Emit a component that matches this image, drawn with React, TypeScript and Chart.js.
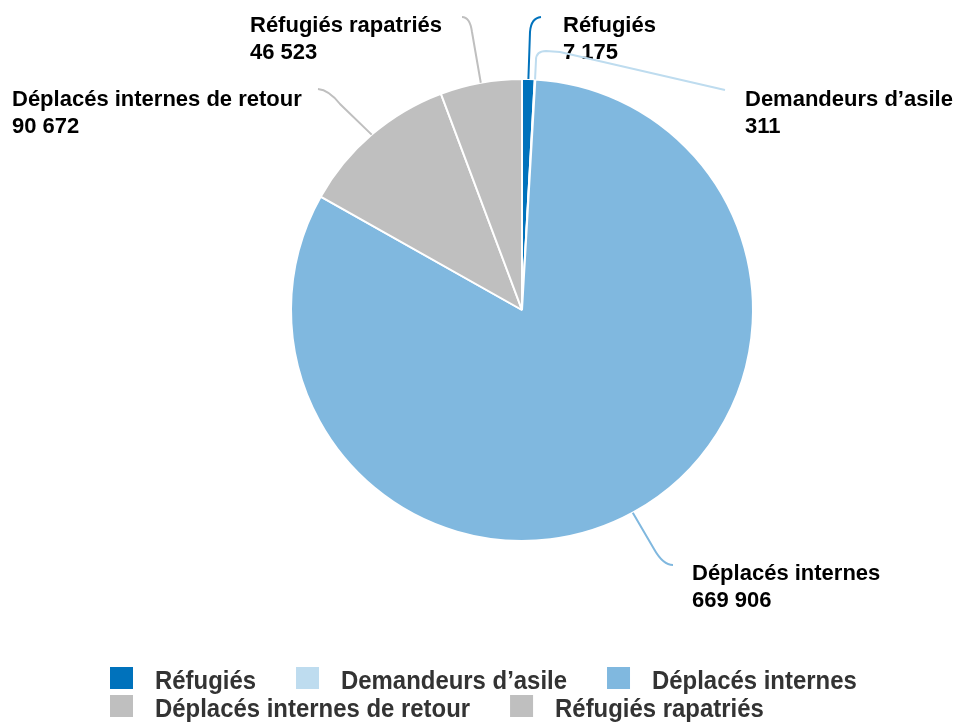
import React, { useEffect, useRef } from "react";
import { Chart, registerables } from "chart.js";

Chart.register(...registerables);

const categories = [
  "Réfugiés",
  "Demandeurs d’asile",
  "Déplacés internes",
  "Déplacés internes de retour",
  "Réfugiés rapatriés",
];
const values = [7175, 311, 669906, 90672, 46523];
const colors = ["#0072BC", "#BEDCEF", "#80B8DF", "#BFBFBF", "#BFBFBF"];

type Seg = { l?: [number, number]; q?: [number, number, number, number] };
const labelLayout: { tx: number; ty: number; path: Seg[] }[] = [
  { tx: 563, ty: 32, path: [{ l: [530, 32] }, { q: [531, 18, 541, 17] }] },
  {
    tx: 745,
    ty: 106,
    path: [{ l: [536, 60] }, { q: [536, 51, 546, 51] }, { l: [560, 52] }, { l: [725, 90] }],
  },
  { tx: 692, ty: 580, path: [{ l: [654, 549] }, { q: [663, 565, 673, 565] }] },
  { tx: 12, ty: 106, path: [{ l: [340, 104] }, { q: [329, 90, 318, 89] }] },
  { tx: 250, ty: 32, path: [{ l: [472, 32] }, { q: [470, 17, 462, 17] }] },
];

function fmt(n: number): string {
  return String(n).replace(/\B(?=(\d{3})+(?!\d))/g, " ");
}

const labelsPlugin = {
  id: "pieLabels",
  afterDraw(chart: any) {
    const ctx = chart.ctx as CanvasRenderingContext2D;
    const meta = chart.getDatasetMeta(0);
    const ds = chart.data.datasets[0];
    meta.data.forEach((arc: any, i: number) => {
      const p = arc.getProps(["x", "y", "startAngle", "endAngle", "outerRadius"], true);
      const mid = (p.startAngle + p.endAngle) / 2;
      const ax = p.x + Math.cos(mid) * p.outerRadius;
      const ay = p.y + Math.sin(mid) * p.outerRadius;
      const lay = labelLayout[i];
      ctx.save();
      ctx.strokeStyle = (ds.backgroundColor as string[])[i];
      ctx.lineWidth = 2;
      ctx.beginPath();
      ctx.moveTo(ax, ay);
      lay.path.forEach((s) => {
        if (s.l) ctx.lineTo(s.l[0], s.l[1]);
        if (s.q) ctx.quadraticCurveTo(s.q[0], s.q[1], s.q[2], s.q[3]);
      });
      ctx.stroke();
      ctx.fillStyle = "#000000";
      ctx.font = "bold 22px 'Liberation Sans', Arial, sans-serif";
      ctx.textAlign = "left";
      ctx.textBaseline = "alphabetic";
      ctx.fillText(String(chart.data.labels[i]), lay.tx, lay.ty);
      ctx.fillText(fmt(ds.data[i] as number), lay.tx, lay.ty + 27);
      ctx.restore();
    });
  },
};

const legendPlugin = {
  id: "customLegend",
  afterDraw(chart: any) {
    const ctx = chart.ctx as CanvasRenderingContext2D;
    const ds = chart.data.datasets[0];
    const labels = chart.data.labels as string[];
    const startX = 110;
    const maxX = 880;
    const box = 23;
    const gapText = 22;
    const gapItem = 40;
    const sx = 0.92;
    let x = startX;
    let row = 0;
    ctx.save();
    ctx.font = "bold 26px 'Liberation Sans', Arial, sans-serif";
    ctx.textBaseline = "alphabetic";
    labels.forEach((lab, i) => {
      const tw = ctx.measureText(lab).width * sx;
      const w = box + gapText + tw;
      if (x + w > maxX && x > startX) {
        x = startX;
        row += 1;
      }
      const top = 667 + row * 28;
      ctx.fillStyle = (ds.backgroundColor as string[])[i];
      ctx.fillRect(x, top, box, 22);
      ctx.fillStyle = "#333333";
      ctx.save();
      ctx.translate(x + box + gapText, top + 22);
      ctx.scale(sx, 1);
      ctx.fillText(lab, 0, 0);
      ctx.restore();
      x += w + gapItem;
    });
    ctx.restore();
  },
};

export default function App() {
  const ref = useRef<HTMLCanvasElement | null>(null);
  useEffect(() => {
    document.body.style.margin = "0";
    if (!ref.current) return;
    const chart = new Chart(ref.current, {
      type: "pie",
      data: {
        labels: categories,
        datasets: [
          {
            data: values,
            backgroundColor: colors,
            borderColor: "#ffffff",
            borderWidth: 2,
          },
        ],
      },
      options: {
        animation: false,
        responsive: true,
        maintainAspectRatio: false,
        radius: 231,
        layout: { padding: { left: 90, right: 0, top: 0, bottom: 103 } },
        plugins: {
          legend: { display: false },
          tooltip: { enabled: false },
        },
      },
      plugins: [labelsPlugin, legendPlugin],
    });
    return () => chart.destroy();
  }, []);
  return (
    <div style={{ position: "fixed", left: 0, top: 0, width: 954, height: 723, background: "#fff" }}>
      <canvas ref={ref} />
    </div>
  );
}
